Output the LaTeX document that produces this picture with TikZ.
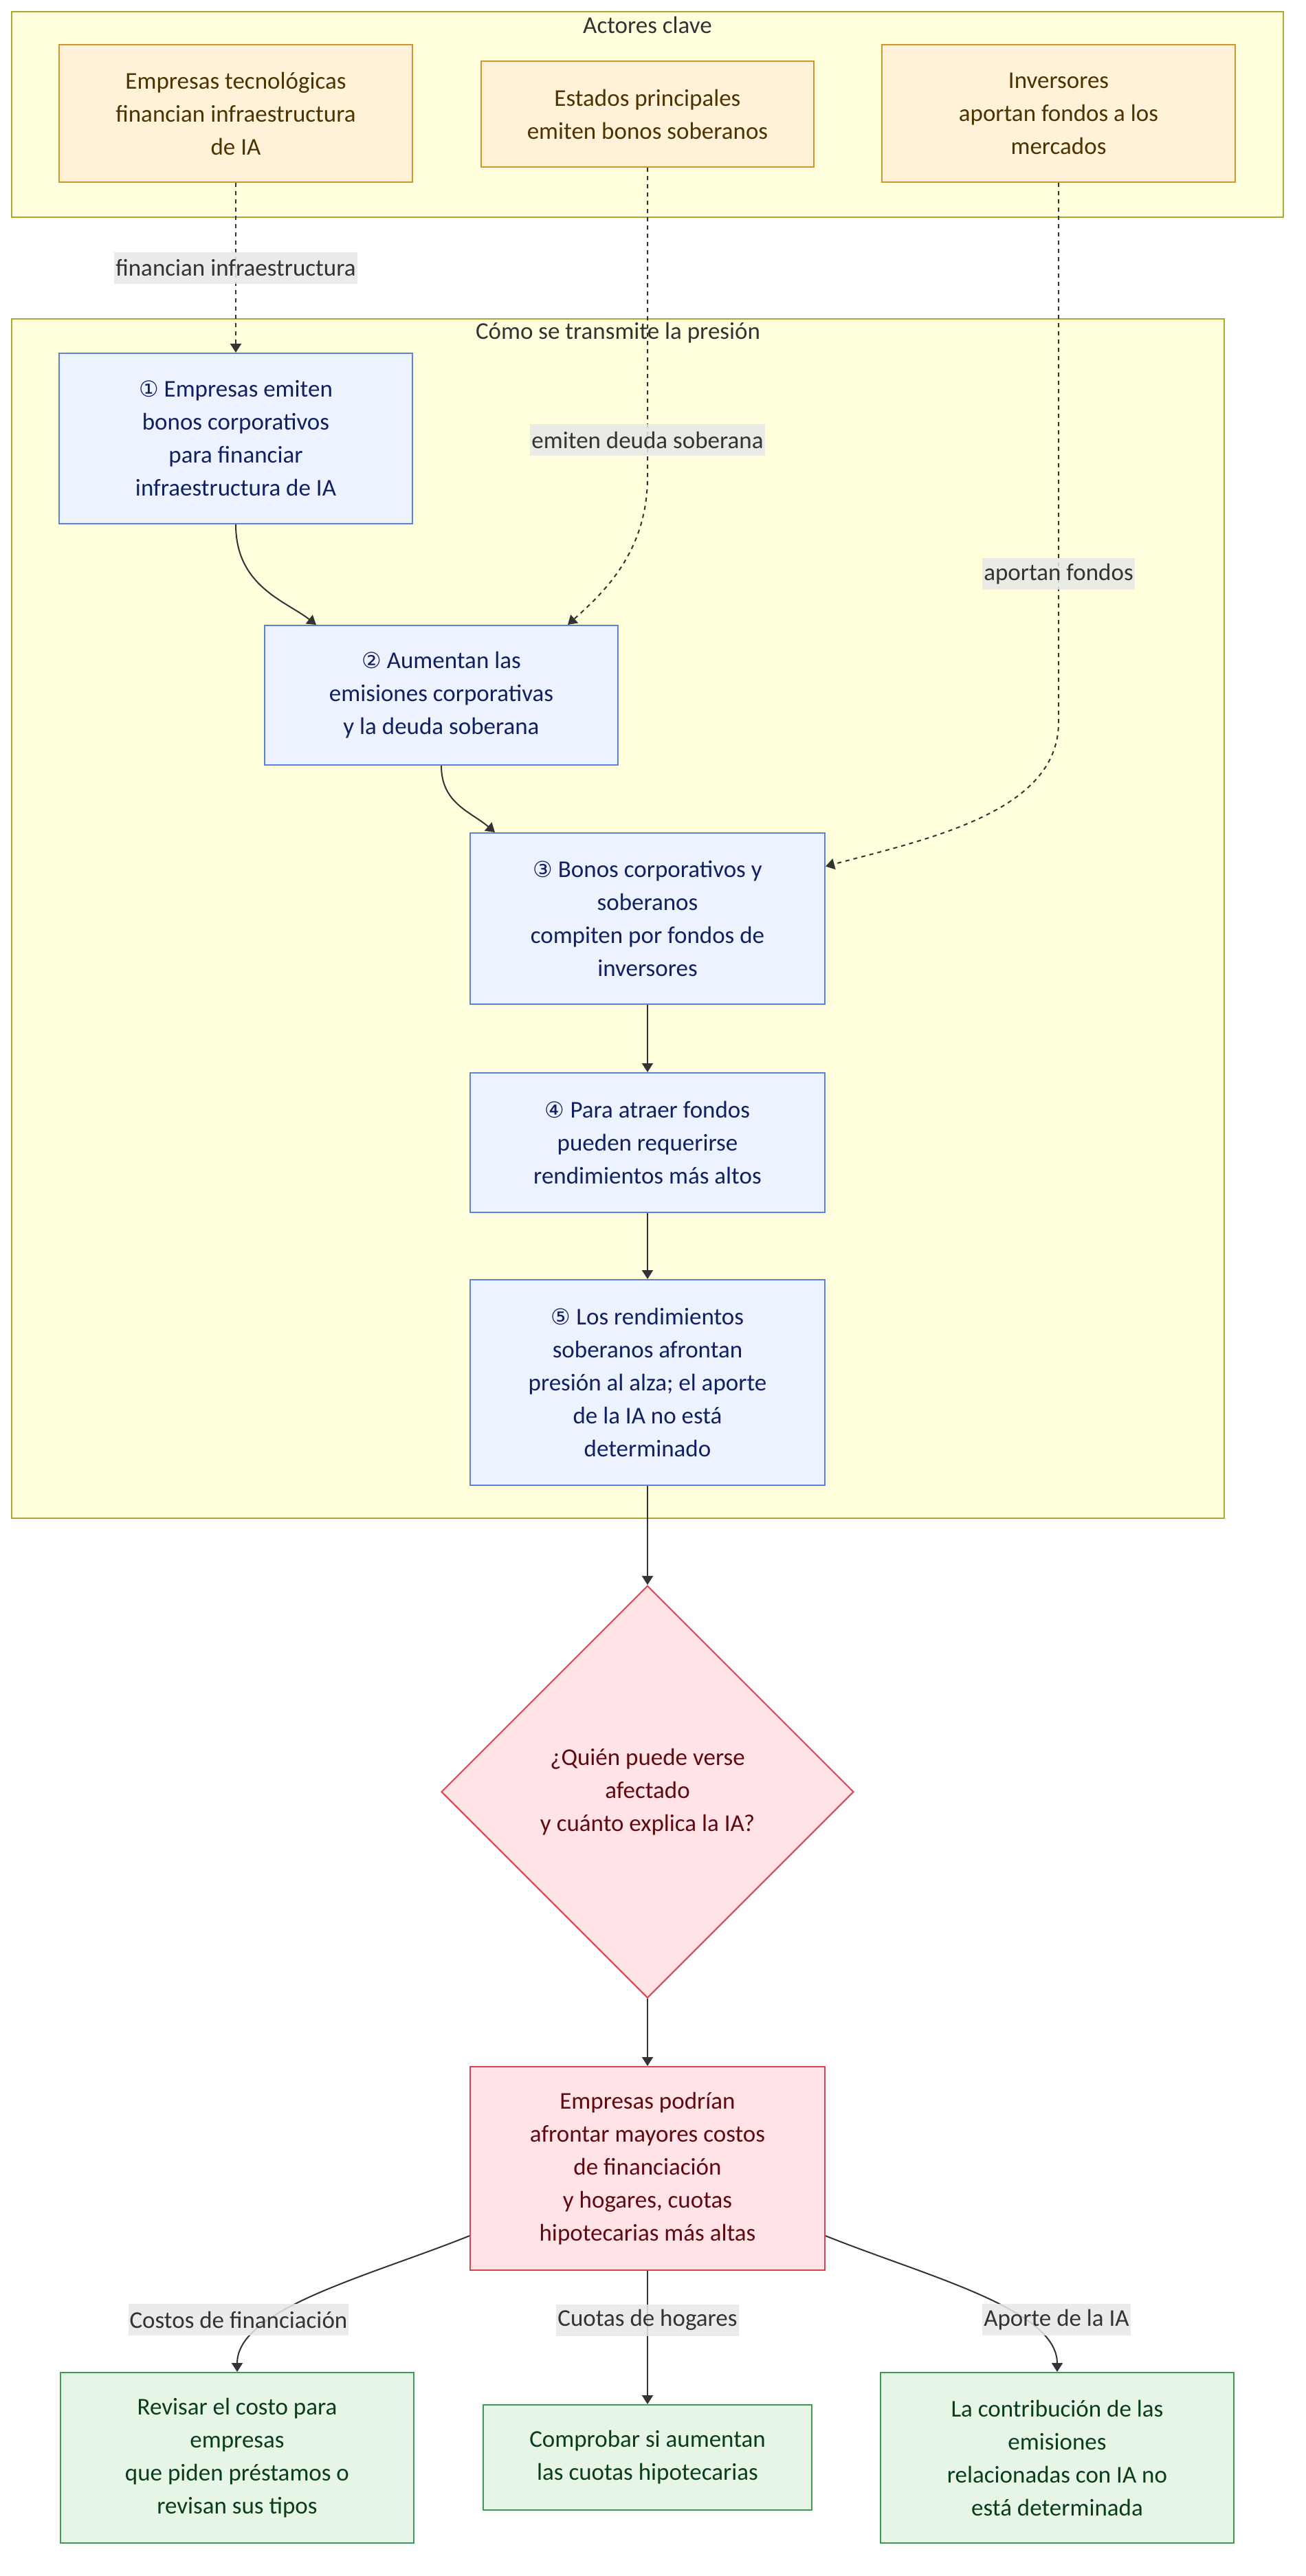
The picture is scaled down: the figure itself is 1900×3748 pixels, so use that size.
\documentclass[tikz,border=0pt]{standalone}
\usepackage{fontspec}
\setmainfont{Carlito}
\newfontfamily\numfont{DejaVu Sans}
\usetikzlibrary{arrows.meta,shapes.geometric}

\definecolor{clusterfill}{HTML}{FFFFDE}
\definecolor{clusterdraw}{HTML}{AAAA33}
\definecolor{actorfill}{HTML}{FFF2D9}
\definecolor{actordraw}{HTML}{D4962A}
\definecolor{actortext}{HTML}{4D3300}
\definecolor{stagefill}{HTML}{ECF3FF}
\definecolor{stagedraw}{HTML}{5B82D8}
\definecolor{stagetext}{HTML}{102060}
\definecolor{riskfill}{HTML}{FFE3E6}
\definecolor{riskdraw}{HTML}{D94450}
\definecolor{risktext}{HTML}{600A10}
\definecolor{checkfill}{HTML}{E6F5E6}
\definecolor{checkdraw}{HTML}{3D9A55}
\definecolor{checktext}{HTML}{0A3D1A}
\definecolor{edgecol}{HTML}{333333}
\definecolor{labelbg}{HTML}{E8E8E8}

\newcommand{\cnum}[1]{{\numfont\fontsize{16pt}{24pt}\selectfont #1}}

\tikzset{
  box/.style={draw, line width=1pt, inner sep=0pt, align=center,
    font=\fontsize{17.5pt}{24pt}\selectfont},
  actor/.style={box, fill=actorfill, draw=actordraw, text=actortext},
  stage/.style={box, fill=stagefill, draw=stagedraw, text=stagetext},
  risk/.style={box, fill=riskfill, draw=riskdraw, text=risktext},
  check/.style={box, fill=checkfill, draw=checkdraw, text=checktext},
  cluster/.style={fill=clusterfill, draw=clusterdraw, line width=1pt},
  ctitle/.style={text=edgecol, font=\fontsize{17.5pt}{24pt}\selectfont},
  flow/.style={draw=edgecol, line width=1pt, -{Triangle[length=6.5pt,width=8pt]}},
  dotflow/.style={flow, dash pattern=on 3pt off 3pt},
  elabel/.style={fill=labelbg, fill opacity=0.85, text opacity=1, text=edgecol,
    inner xsep=1pt, inner ysep=0pt, minimum height=23pt,
    font=\fontsize{17.5pt}{24pt}\selectfont}
}

\begin{document}
\begin{tikzpicture}[x=0.5pt,y=-0.5pt]
  \useasboundingbox (0,0) rectangle (1900,3748);

  % groups
  \draw[cluster] (17,17) rectangle (1867,316);
  \node[ctitle] (t1) at (942,36) {Actores clave};
  \draw[cluster] (17,464) rectangle (1781,2209);
  \node[ctitle] (t2) at (899,484) {Cómo se transmite la presión};

  % actors
  \node[actor, minimum width=257pt, minimum height=100pt] (emp) at (343,165)
    {Empresas tecnológicas\\financian infraestructura\\de IA};
  \node[actor, minimum width=242pt, minimum height=77pt] (est) at (942,166)
    {Estados principales\\emiten bonos soberanos};
  \node[actor, minimum width=257pt, minimum height=100pt] (inv) at (1540,165)
    {Inversores\\aportan fondos a los\\mercados};

  % chain
  \node[stage, minimum width=257pt, minimum height=124pt] (s1) at (343,638)
    {\cnum{①} Empresas emiten\\bonos corporativos\\para financiar\\infraestructura de IA};
  \node[stage, minimum width=257pt, minimum height=101.5pt] (s2) at (642,1011.5)
    {\cnum{②} Aumentan las\\emisiones corporativas\\y la deuda soberana};
  \node[stage, minimum width=258pt, minimum height=124.5pt] (s3) at (942,1336.5)
    {\cnum{③} Bonos corporativos y\\soberanos\\compiten por fondos de\\inversores};
  \node[stage, minimum width=258pt, minimum height=101.5pt] (s4) at (942,1662.5)
    {\cnum{④} Para atraer fondos\\pueden requerirse\\rendimientos más altos};
  \node[stage, minimum width=258pt, minimum height=149.5pt] (s5) at (942,2011.5)
    {\cnum{⑤} Los rendimientos\\soberanos afrontan\\presión al alza; el aporte\\de la IA no está\\determinado};

  % outcome
  \node[risk, diamond, aspect=1, minimum width=300pt, minimum height=300pt] (who) at (942,2607)
    {¿Quién puede verse\\afectado\\y cuánto explica la IA?};
  \node[risk, minimum width=258pt, minimum height=148pt] (cost) at (942,3155)
    {Empresas podrían\\afrontar mayores costos\\de financiación\\y hogares, cuotas\\hipotecarias más altas};

  \node[check, minimum width=257pt, minimum height=124pt] (c1) at (345,3576)
    {Revisar el costo para\\empresas\\que piden préstamos o\\revisan sus tipos};
  \node[check, minimum width=239pt, minimum height=76.5pt] (c2) at (942,3575.5)
    {Comprobar si aumentan\\las cuotas hipotecarias};
  \node[check, minimum width=257pt, minimum height=124pt] (c3) at (1538,3576)
    {La contribución de las\\emisiones\\relacionadas con IA no\\está determinada};

  % connectors
  \draw[dotflow] (emp.south) -- node[elabel] {financian infraestructura} (s1.north);
  \draw[dotflow] (est.south) -- node[elabel, pos=0.88] {emiten deuda soberana} ++(0,450)
    .. controls +(0,110) and +(50,-45) .. ([xshift=92pt]s2.north);
  \draw[dotflow] (inv.south) -- node[elabel, pos=0.725] {aportan fondos} ++(0,785)
    .. controls +(0,130) and +(150,-40) .. ([yshift=38pt]s3.east);
  \draw[flow] (s1.south) .. controls +(0,90) and +(-45,-35) .. ([xshift=-91pt]s2.north);
  \draw[flow] (s2.south) .. controls +(0,55) and +(-35,-30) .. ([xshift=-111pt]s3.north);
  \draw[flow] (s3) -- (s4);
  \draw[flow] (s4) -- (s5);
  \draw[flow] (s5) -- (who);
  \draw[flow] (who) -- (cost);
  \draw[flow] ([yshift=25.5pt]cost.south west) .. controls +(-144,58) and +(0,-92) .. (c1.north);
  \draw[flow] (cost.south) -- node[elabel, pos=0.37] {Cuotas de hogares} (c2.north);
  \draw[flow] ([yshift=25.5pt]cost.south east) .. controls +(144,58) and +(0,-92) .. (c3.north);
  \node[elabel] (lcost) at (347,3375) {Costos de financiación};
  \node[elabel] (lia) at (1537,3375) {Aporte de la IA};
\end{tikzpicture}
\end{document}
